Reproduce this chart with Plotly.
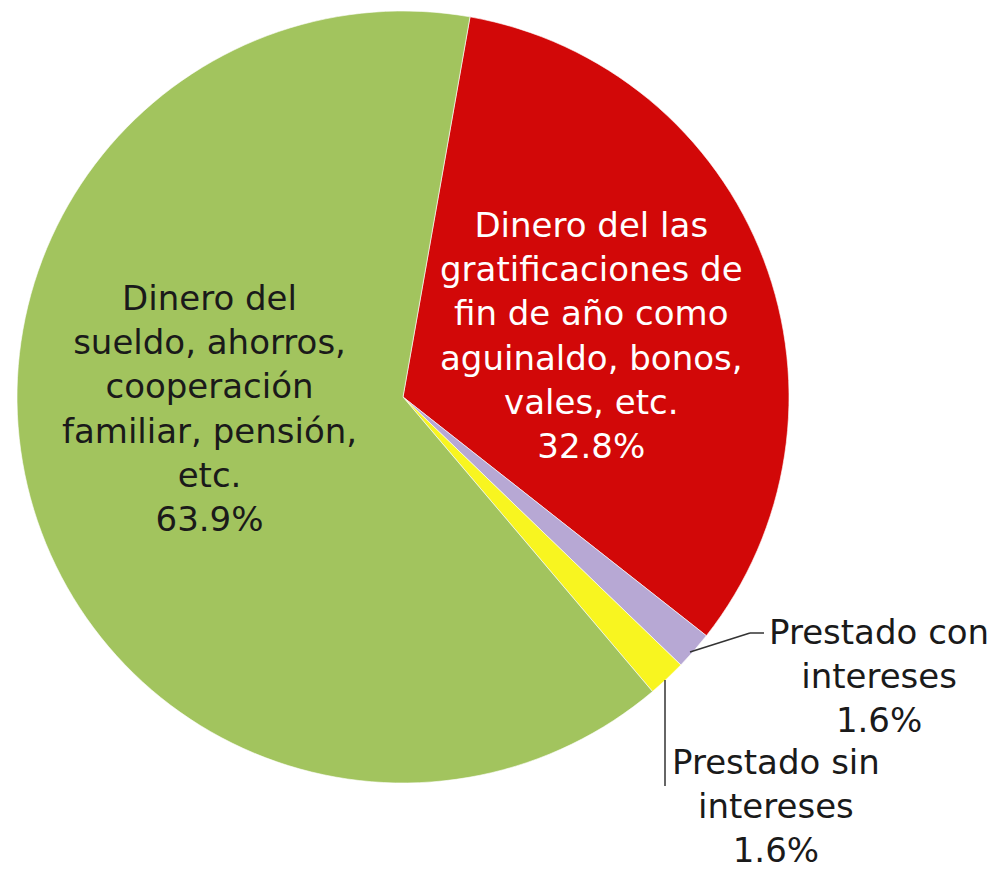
import plotly.graph_objects as go

labels = ["Dinero del las gratificaciones de fin de año como aguinaldo, bonos, vales, etc.",
          "Prestado con intereses",
          "Prestado sin intereses",
          "Dinero del sueldo, ahorros, cooperación familiar, pensión, etc."]
values = [32.8, 1.6, 1.6, 63.9]
colors = ["#D20808", "#B7A8D4", "#F8F520", "#A2C45E"]

label_texts = [
    "Dinero del las<br>gratificaciones de<br>fin de año como<br>aguinaldo, bonos,<br>vales, etc.<br>32.8%",
    "Prestado con<br>intereses<br>1.6%",
    "Prestado sin<br>intereses<br>1.6%",
    "Dinero del<br>sueldo, ahorros,<br>cooperación<br>familiar, pensión,<br>etc.<br>63.9%",
]

W, H = 1001, 870
OFF = 8  # page body margin shifts the figure by 8px right/down
cx, cy, r = 403 - OFF, 397 - OFF, 386

fig = go.Figure(go.Pie(
    labels=labels, values=values, sort=False, direction="clockwise",
    rotation=10, marker=dict(colors=colors, line=dict(color="rgba(255,255,255,0.6)", width=1)),
    textinfo="none", hoverinfo="label+percent", showlegend=False,
    domain=dict(x=[(cx - r) / W, (cx + r) / W], y=[1 - (cy + r) / H, 1 - (cy - r) / H]),
))

def px(x, y):
    return (x - OFF) / W, 1 - (y - OFF) / H

fam = "DejaVu Sans, Verdana, sans-serif"
size = 34
anns = [
    (591, 336, label_texts[0], "white", "center"),
    (767, 676, label_texts[1], "#1a1a1a", "left"),
    (670, 806, label_texts[2], "#1a1a1a", "left"),
    (209, 408, label_texts[3], "#1a1a1a", "center"),
]
annotations = []
for x, y, t, c, xa in anns:
    ax, ay = px(x, y)
    annotations.append(dict(x=ax, y=ay, xref="paper", yref="paper", text=t, showarrow=False,
                            font=dict(family=fam, size=size, color=c),
                            align="center", xanchor=xa, yanchor="middle"))

shapes = []
for pts in [[(690, 652), (750, 633), (764, 633)], [(665, 680), (665, 786)]]:
    for (x0, y0), (x1, y1) in zip(pts[:-1], pts[1:]):
        a0, b0 = px(x0, y0)
        a1, b1 = px(x1, y1)
        shapes.append(dict(type="line", xref="paper", yref="paper", x0=a0, y0=b0, x1=a1, y1=b1,
                           line=dict(color="#333333", width=1.5)))

fig.update_layout(width=W, height=H, margin=dict(l=0, r=0, t=0, b=0),
                  paper_bgcolor="white", plot_bgcolor="white",
                  annotations=annotations, shapes=shapes)
fig.write_html("out.html")
